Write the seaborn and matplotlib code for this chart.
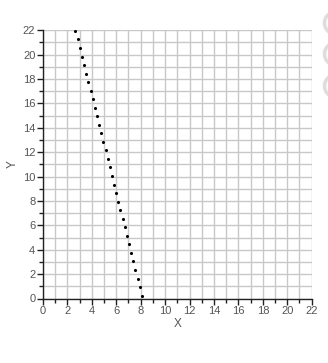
import matplotlib
matplotlib.use("Agg")
import matplotlib.pyplot as plt
import seaborn as sns
import pandas as pd
from matplotlib.patches import Circle
from matplotlib.ticker import MultipleLocator

x_values = [8.10, 7.94, 7.75, 7.55, 7.39, 7.20, 7.03, 6.87, 6.68, 6.52, 6.33, 6.16,
            5.97, 5.80, 5.64, 5.48, 5.29, 5.12, 4.93, 4.77, 4.61, 4.41, 4.25, 4.06,
            3.89, 3.70, 3.54, 3.34, 3.18, 3.02, 2.83, 2.66]
y_values = [0.23, 0.94, 1.63, 2.34, 3.05, 3.73, 4.44, 5.15, 5.84, 6.54, 7.23, 7.93,
            8.65, 9.34, 10.04, 10.75, 11.46, 12.15, 12.85, 13.54, 14.25, 14.93, 15.64, 16.35,
            17.03, 17.75, 18.43, 19.14, 19.85, 20.53, 21.25, 21.93]
x_ticks = [0, 2, 4, 6, 8, 10, 12, 14, 16, 18, 20, 22]
y_ticks = [0, 2, 4, 6, 8, 10, 12, 14, 16, 18, 20, 22]

df = pd.DataFrame({"X": x_values, "Y": y_values})

sns.set_theme(style="white")
plt.rcParams["font.family"] = ["Liberation Sans", "DejaVu Sans"]

fig = plt.figure(figsize=(3.28, 3.63), dpi=100)
ax = fig.add_axes([43 / 328, 1 - 298.5 / 363, (311.7 - 43) / 328, (298.5 - 30.3) / 363])

sns.scatterplot(data=df, x="X", y="Y", ax=ax, color="black", s=5, linewidth=0, zorder=3)

ax.set_xlim(0, 22)
ax.set_ylim(0, 22)
ax.set_xticks(x_ticks)
ax.set_yticks(y_ticks)
ax.xaxis.set_minor_locator(MultipleLocator(1))
ax.yaxis.set_minor_locator(MultipleLocator(1))
ax.grid(True, which="both", color="#c8c8c8", linewidth=1.0, zorder=0)
ax.set_axisbelow(True)

for side in ["top", "right"]:
    ax.spines[side].set_visible(False)
for side in ["left", "bottom"]:
    ax.spines[side].set_color("#222222")
    ax.spines[side].set_linewidth(1.0)

ax.tick_params(which="major", direction="out", length=4, width=1, color="#222222",
               labelsize=8, labelcolor="#555555", pad=1.5, bottom=True, left=True)
ax.tick_params(which="minor", direction="out", length=3, width=1, color="#222222",
               bottom=True, left=True)

ax.set_xlabel("X", fontsize=8.5, color="#555555", labelpad=1)
ax.set_ylabel("Y", fontsize=8.5, color="#555555", labelpad=3)

# faint round buttons at the right edge
for cy in [23, 54, 86]:
    c = Circle((334 / 328, 1 - cy / 363), 9.5 / 328, transform=fig.transFigure,
               facecolor="#fbfbfb", edgecolor="#dddddd", linewidth=2.5, clip_on=False)
    fig.add_artist(c)

fig.savefig("out.png", dpi=100)
